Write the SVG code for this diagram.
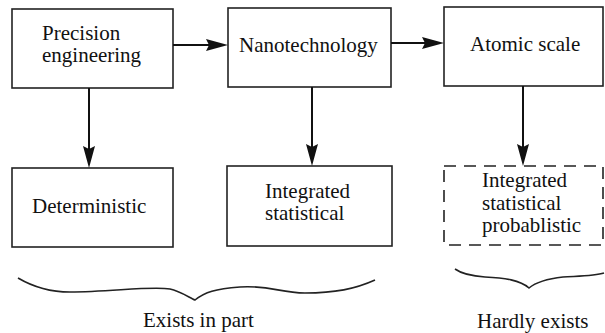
<svg xmlns="http://www.w3.org/2000/svg" width="605" height="333" viewBox="0 0 605 333">
  <style>
    .box { fill: #fff; stroke: #222; stroke-width: 1.6; }
    .dash { fill: #fff; stroke: #222; stroke-width: 1.6; stroke-dasharray: 12 8; }
    .lbl { font-family: "Liberation Serif", "Times New Roman", serif; font-size: 21px; fill: #111; }
    .edge { stroke: #111; stroke-width: 2; fill: none; }
    .brace { stroke: #222; stroke-width: 1.6; fill: none; }
    .head { fill: #111; }
  </style>
  <rect width="605" height="333" fill="#fff"/>

  <g id="precision">
    <rect class="box" x="12" y="9" width="161" height="79"/>
    <text class="lbl" x="42" y="40">Precision</text>
    <text class="lbl" x="42" y="62">engineering</text>
  </g>
  <g id="nano">
    <rect class="box" x="228" y="8" width="163" height="79"/>
    <text class="lbl" x="239" y="52">Nanotechnology</text>
  </g>
  <g id="atomic">
    <rect class="box" x="444" y="7" width="159" height="79"/>
    <text class="lbl" x="470" y="51">Atomic scale</text>
  </g>
  <g id="deterministic">
    <rect class="box" x="12" y="168" width="161" height="79"/>
    <text class="lbl" x="32" y="213">Deterministic</text>
  </g>
  <g id="integrated">
    <rect class="box" x="227" y="166" width="165" height="80"/>
    <text class="lbl" x="265" y="198">Integrated</text>
    <text class="lbl" x="265" y="220">statistical</text>
  </g>
  <g id="probabilistic">
    <rect class="dash" x="444" y="166" width="159" height="79"/>
    <text class="lbl" x="482" y="187">Integrated</text>
    <text class="lbl" x="482" y="210">statistical</text>
    <text class="lbl" x="482" y="232">probablistic</text>
  </g>

  <g id="connectors">
    <line class="edge" x1="173" y1="45" x2="210" y2="45"/>
    <path class="head" d="M228,45 L206,39 L209,45 L206,51 Z"/>
    <line class="edge" x1="391" y1="43" x2="426" y2="43"/>
    <path class="head" d="M444,43 L422,37 L425,43 L422,49 Z"/>
    <line class="edge" x1="89" y1="88" x2="89" y2="150"/>
    <path class="head" d="M89,168 L83,146 L89,149 L95,146 Z"/>
    <line class="edge" x1="312" y1="87" x2="312" y2="148"/>
    <path class="head" d="M312,166 L306,144 L312,147 L318,144 Z"/>
    <line class="edge" x1="523" y1="86" x2="523" y2="148"/>
    <path class="head" d="M523,166 L517,144 L523,147 L529,144 Z"/>
  </g>

  <g id="groups">
    <path class="brace" d="M18,278 C35,288 50,292 70,292 C110,292 150,286 170,289 C180,291 190,298 195,300 C205,292 215,289 240,287 C270,285 280,293 305,293 C335,293 355,289 375,280"/>
    <text class="lbl" x="143" y="327">Exists in part</text>
    <path class="brace" d="M455,269 C462,274 470,276 485,277 C505,278 520,280 529,288 C535,283 545,279 563,277 C580,276 595,276 604,273"/>
    <text class="lbl" x="477" y="328">Hardly exists</text>
  </g>
</svg>
